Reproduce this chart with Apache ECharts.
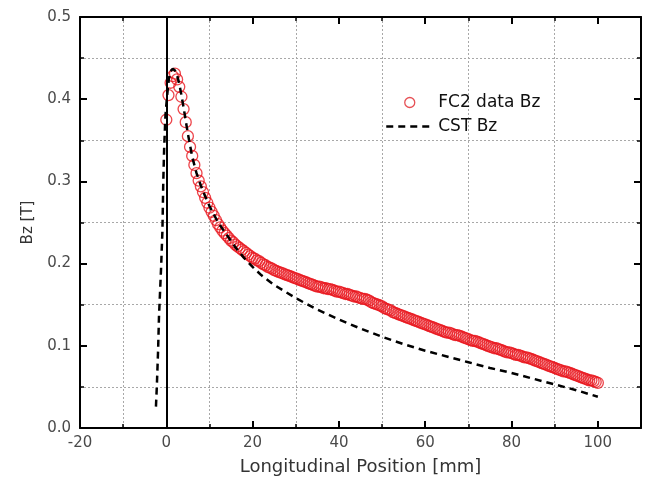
<!DOCTYPE html>
<html>
<head>
<meta charset="utf-8">
<script src="https://cdn.jsdelivr.net/npm/echarts@6/dist/echarts.min.js"></script>
<style>html,body{margin:0;padding:0;background:#fff;}#c{width:648px;height:490px;}</style>
</head>
<body>
<div id="c"></div>
<script>
// Measured FC2 data (position in mm, Bz in T)
var fc2X = [0,0.5,1,1.5,2,2.5,3,3.5,4,4.5,5,5.5,6,6.5,7,7.5,8,8.5,9,9.5,
  10,10.5,11,11.5,12,12.5,13,13.5,14,14.5,15,15.5,16,16.5,17,17.5,18,18.5,19,19.5,
  20,20.5,21,21.5,22,22.5,23,23.5,24,24.5,25,25.5,26,26.5,27,27.5,28,28.5,29,29.5,
  30,30.5,31,31.5,32,32.5,33,33.5,34,34.5,35,35.5,36,36.5,37,37.5,38,38.5,39,39.5,
  40,40.5,41,41.5,42,42.5,43,43.5,44,44.5,45,45.5,46,46.5,47,47.5,48,48.5,49,49.5,
  50,50.5,51,51.5,52,52.5,53,53.5,54,54.5,55,55.5,56,56.5,57,57.5,58,58.5,59,59.5,
  60,60.5,61,61.5,62,62.5,63,63.5,64,64.5,65,65.5,66,66.5,67,67.5,68,68.5,69,69.5,
  70,70.5,71,71.5,72,72.5,73,73.5,74,74.5,75,75.5,76,76.5,77,77.5,78,78.5,79,79.5,
  80,80.5,81,81.5,82,82.5,83,83.5,84,84.5,85,85.5,86,86.5,87,87.5,88,88.5,89,89.5,
  90,90.5,91,91.5,92,92.5,93,93.5,94,94.5,95,95.5,96,96.5,97,97.5,98,98.5,99,99.5,100];
var fc2Bz = [0.375,0.405,0.420,0.428,0.431,0.424,0.415,0.403,0.388,0.372,0.355,0.342,0.331,0.320,0.310,0.301,0.294,0.287,0.280,0.274,
  0.268,0.263,0.258,0.253,0.248,0.244,0.240,0.237,0.234,0.231,0.228,0.226,0.223,0.221,0.219,0.217,0.215,0.213,0.211,0.209,
  0.207,0.206,0.204,0.203,0.201,0.199,0.198,0.196,0.195,0.194,0.192,0.191,0.190,0.189,0.188,0.187,0.186,0.185,0.184,0.183,
  0.182,0.181,0.180,0.179,0.178,0.177,0.176,0.175,0.174,0.173,0.172,0.172,0.171,0.170,0.170,0.169,0.169,0.168,0.167,0.166,
  0.166,0.165,0.164,0.163,0.163,0.162,0.161,0.160,0.160,0.159,0.158,0.157,0.157,0.156,0.155,0.153,0.152,0.151,0.150,0.149,
  0.148,0.146,0.145,0.144,0.143,0.141,0.140,0.139,0.138,0.137,0.136,0.135,0.134,0.133,0.132,0.131,0.130,0.129,0.128,0.127,
  0.126,0.125,0.124,0.123,0.122,0.121,0.120,0.119,0.118,0.117,0.116,0.116,0.115,0.114,0.113,0.113,0.112,0.111,0.110,0.109,
  0.108,0.107,0.106,0.106,0.105,0.104,0.103,0.102,0.101,0.100,0.099,0.098,0.097,0.097,0.096,0.095,0.094,0.093,0.092,0.092,
  0.091,0.090,0.089,0.089,0.088,0.087,0.086,0.086,0.085,0.084,0.083,0.082,0.081,0.080,0.079,0.078,0.077,0.076,0.075,0.074,
  0.073,0.072,0.071,0.070,0.069,0.069,0.068,0.067,0.066,0.065,0.064,0.063,0.062,0.061,0.060,0.059,0.058,0.058,0.057,0.056,0.055];
// CST simulation
var cstX = [-2.4,-2.2,-1.9,-1.7,-1.2,-0.9,-0.7,-0.5,-0.2,0.2,0.6,1.0,1.5,2,2.5,3,3.5,4,5,6,7,8,9,10,12,14,16,18,20,22,25,30,35,40,45,50,55,60,65,70,75,80,85,90,95,100];
var cstBz = [0.026,0.050,0.095,0.135,0.196,0.240,0.300,0.340,0.380,0.405,0.425,0.434,0.437,0.435,0.429,0.419,0.405,0.390,0.358,0.330,0.310,0.295,0.282,0.270,0.250,0.235,0.220,0.207,0.196,0.186,0.174,0.158,0.144,0.132,0.121,0.111,0.102,0.094,0.087,0.080,0.073,0.067,0.060,0.053,0.046,0.038];
var zeroLine = [0];
var xTicks = {min: -20, max: 110, interval: 20};
var yTicks = {min: 0, max: 0.5, interval: 0.1};

var chart = echarts.init(document.getElementById('c'), null, {renderer: 'canvas'});
var font = '"DejaVu Sans", sans-serif';
var gridLine = {show: true, lineStyle: {color: '#a8a8a8', width: 1, type: [2, 2]}};
function axisCommon(extra) {
  var base = {
    type: 'value',
    axisLine: {show: true, onZero: false, lineStyle: {color: '#000', width: 2}},
    axisTick: {show: true, inside: true, length: 7, lineStyle: {color: '#000', width: 2}},
    minorTick: {show: true, splitNumber: 2, length: 4, lineStyle: {color: '#000', width: 1.5}},
    splitLine: {show: false},
    minorSplitLine: {show: false}
  };
  for (var k in extra) base[k] = extra[k];
  return base;
}
var option = {
  backgroundColor: '#fff',
  animation: false,
  textStyle: {fontFamily: font},
  grid: {left: 80, right: 7, top: 17, bottom: 62, containLabel: false},
  legend: {
    orient: 'vertical', left: 385, top: 94, padding: 0,
    itemWidth: 47, itemHeight: 10, itemGap: 7,
    textStyle: {fontFamily: font, fontSize: 17, color: '#111'},
    data: [
      {name: 'FC2 data Bz', icon: 'circle', itemStyle: {color: 'transparent', borderColor: '#e0242a', borderWidth: 1.3}},
      {name: 'CST Bz', itemStyle: {opacity: 0}, lineStyle: {color: '#000', width: 2.5, type: [7, 5]}}
    ]
  },
  xAxis: [
    axisCommon({
      position: 'bottom', min: xTicks.min, max: xTicks.max, interval: xTicks.interval,
      name: 'Longitudinal Position [mm]', nameLocation: 'middle', nameGap: 30,
      nameTextStyle: {fontFamily: font, fontSize: 18, color: '#333'},
      axisLabel: {show: true, margin: 8, showMaxLabel: false, fontFamily: font, fontSize: 15, color: '#4a4a4a'},
      minorSplitLine: gridLine
    }),
    axisCommon({
      position: 'top', min: xTicks.min, max: xTicks.max, interval: xTicks.interval,
      axisLabel: {show: false}
    })
  ],
  yAxis: [
    axisCommon({
      position: 'left', min: yTicks.min, max: yTicks.max, interval: yTicks.interval,
      name: 'Bz [T]', nameLocation: 'middle', nameGap: 44,
      nameTextStyle: {fontFamily: font, fontSize: 15, color: '#333'},
      axisLabel: {show: true, margin: 9, fontFamily: font, fontSize: 15, color: '#4a4a4a',
        formatter: function (v) { return v.toFixed(1); }},
      minorSplitLine: gridLine
    }),
    axisCommon({
      position: 'right', min: yTicks.min, max: yTicks.max, interval: yTicks.interval,
      axisLabel: {show: false}
    })
  ],
  series: [
    {
      name: 'FC2 data Bz', type: 'scatter', xAxisIndex: 0, yAxisIndex: 0,
      symbol: 'circle', symbolSize: 11,
      itemStyle: {color: 'transparent', borderColor: '#e8161e', borderWidth: 1.3},
      data: fc2X.map(function (x, i) { return [x, fc2Bz[i]]; }),
      z: 3
    },
    {
      name: 'CST Bz', type: 'line', xAxisIndex: 0, yAxisIndex: 0,
      showSymbol: false, symbol: 'none', smooth: false,
      lineStyle: {color: '#000', width: 2.5, type: [7, 5]},
      itemStyle: {color: '#000'},
      data: cstX.map(function (x, i) { return [x, cstBz[i]]; }),
      markLine: {
        silent: true, symbol: 'none', animation: false,
        label: {show: false},
        lineStyle: {color: '#000', width: 2, type: 'solid'},
        data: zeroLine.map(function (v) { return {xAxis: v}; })
      },
      z: 4
    }
  ]
};
chart.setOption(option);
</script>
</body>
</html>
